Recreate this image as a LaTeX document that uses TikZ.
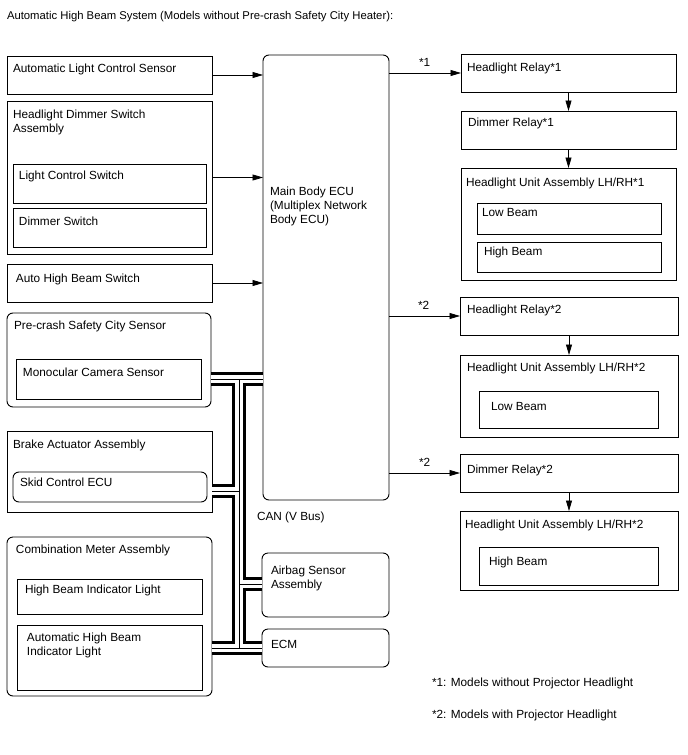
\documentclass[tikz,border=0pt]{standalone}
\usepackage{fontspec}
\setmainfont{Liberation Sans}
\usetikzlibrary{fit,calc,arrows.meta}
\begin{document}
\begin{tikzpicture}[x=1pt,y=-1pt,
  box/.style={draw, line width=0.9pt, inner sep=0pt, outer sep=0pt},
  rbox/.style={box, rounded corners=6pt},
  txt/.style={anchor=base west, inner sep=0pt, outer sep=0pt, font=\fontsize{11.8}{14}\selectfont},
  arr/.style={line width=0.8pt, -{Triangle[length=10.5pt,width=6pt]}},
  busout/.style={line width=14pt, black},
  busin/.style={line width=8pt, white},
  buscore/.style={line width=0.8pt, black},
]
\fill[white] (0,0) rectangle (688,755);
\useasboundingbox (0,0) rectangle (688,755);

% title
\node[txt, font=\fontsize{11.3}{14}\selectfont] (title) at (7,19) {Automatic High Beam System (Models without Pre-crash Safety City Heater):};

% left column
\node[box, fit={(7,56)(212,94)}] (als) {};
\node[txt] (alst) at (13,72) {Automatic Light Control Sensor};
\node[box, fit={(7,101)(212,254)}] (hds) {};
\node[txt] (hdst1) at (13,118) {Headlight Dimmer Switch};
\node[txt] (hdst2) at (13,132) {Assembly};
\node[box, fit={(13,164)(206,203)}] (lcs) {};
\node[txt] (lcst) at (19,179) {Light Control Switch};
\node[box, fit={(13,208)(206,247)}] (dsw) {};
\node[txt] (dswt) at (19,225.5) {Dimmer Switch};
\node[box, fit={(7,264)(212,302)}] (ahb) {};
\node[txt] (ahbt) at (16,282) {Auto High Beam Switch};

\node[rbox, fit={(7,313)(211,407)}] (pcs) {};
\node[txt] (pcst) at (14,329) {Pre-crash Safety City Sensor};
\node[box, fit={(16,359)(201,399)}] (mcs) {};
\node[txt] (mcst) at (23,376.5) {Monocular Camera Sensor};

\node[box, fit={(7,431)(212,512)}] (baa) {};
\node[txt] (baat) at (13,448) {Brake Actuator Assembly};
\node[rbox, fit={(13,472)(207,502)}] (sce) {};
\node[txt] (scet) at (20,486.5) {Skid Control ECU};

\node[rbox, fit={(7,537)(212,696)}] (cma) {};
\node[txt] (cmat) at (16,553) {Combination Meter Assembly};
\node[box, fit={(17,579)(202,614)}] (hbi) {};
\node[txt] (hbit) at (25,593) {High Beam Indicator Light};
\node[box, fit={(17,625)(202,690)}] (ahi) {};
\node[txt] (ahit1) at (27,641.5) {Automatic High Beam};
\node[txt] (ahit2) at (27,655.5) {Indicator Light};

% middle column
\node[rbox, fit={(263,55)(389,500)}] (ecu) {};
\node[txt] (ecut1) at (270,195) {Main Body ECU};
\node[txt] (ecut2) at (270,209) {(Multiplex Network};
\node[txt] (ecut3) at (270,223) {Body ECU)};
\node[txt] (can) at (257,520) {CAN (V Bus)};
\node[rbox, fit={(262,553)(389,617)}] (air) {};
\node[txt] (airt1) at (271,574.5) {Airbag Sensor};
\node[txt] (airt2) at (271,588.5) {Assembly};
\node[rbox, fit={(262,629)(389,667)}] (ecm) {};
\node[txt] (ecmt) at (271,648.5) {ECM};

% right column
\node[box, fit={(461,54)(676,92)}] (hr1) {};
\node[txt] (hr1t) at (467,71.5) {Headlight Relay*1};
\node[box, fit={(461,111)(676,149)}] (dr1) {};
\node[txt] (dr1t) at (468,126) {Dimmer Relay*1};
\node[box, fit={(461,168)(676,280)}] (hu1) {};
\node[txt] (hu1t) at (466,186) {Headlight Unit Assembly LH/RH*1};
\node[box, fit={(477,203)(661,234)}] (lb1) {};
\node[txt] (lb1t) at (482,216) {Low Beam};
\node[box, fit={(477,242)(661,272)}] (hb1) {};
\node[txt] (hb1t) at (484,255) {High Beam};

\node[box, fit={(460,297)(678,335)}] (hr2) {};
\node[txt] (hr2t) at (467,313) {Headlight Relay*2};
\node[box, fit={(460,355)(678,437)}] (hu2) {};
\node[txt] (hu2t) at (467,371.5) {Headlight Unit Assembly LH/RH*2};
\node[box, fit={(479,391)(658,428)}] (lb2) {};
\node[txt] (lb2t) at (491,410) {Low Beam};

\node[box, fit={(460,454)(678,492)}] (dr2) {};
\node[txt] (dr2t) at (467,473) {Dimmer Relay*2};
\node[box, fit={(460,511)(678,590)}] (hu3) {};
\node[txt] (hu3t) at (465,528) {Headlight Unit Assembly LH/RH*2};
\node[box, fit={(479,547)(658,585)}] (hb2) {};
\node[txt] (hb2t) at (489,565) {High Beam};

% footnotes
\node[txt] (fn1) at (432,686) {*1: Models without Projector Headlight};
\node[txt] (fn2) at (432,718) {*2: Models with Projector Headlight};

% arrows into ECU
\draw[arr] (als.east) -- (als.east -| ecu.west);
\draw[arr] (hds.east) -- (hds.east -| ecu.west);
\draw[arr] (ahb.east) -- (ahb.east -| ecu.west);

% arrows out of ECU
\draw[arr] (hr1.west -| ecu.east) -- (hr1.west);
\node[txt] (s1) at (419,66.5) {*1};
\draw[arr] (hr2.west -| ecu.east) -- (hr2.west);
\node[txt] (s2) at (418,309.5) {*2};
\draw[arr] (dr2.west -| ecu.east) -- (dr2.west);
\node[txt] (s3) at (419,466) {*2};

\draw[arr] (hr1.south) -- (dr1.north);
\draw[arr] (dr1.south) -- (hu1.north);
\draw[arr] (hr2.south) -- (hu2.north);
\draw[arr] (dr2.south) -- (hu3.north);

% CAN bus
\coordinate (j1) at (239,379);
\coordinate (j2) at (239,491);
\coordinate (j3) at (239,584);
\coordinate (j4) at (239,648);
\foreach \s in {busout,busin,buscore}{
  \draw[\s] (j1 -| pcs.east) -- (j1 -| ecu.west);
  \draw[\s] (j1) -- (j4);
  \draw[\s] (j2 -| baa.east) -- (j2);
  \draw[\s] (j3) -- (j3 -| air.west);
  \draw[\s] (j4 -| cma.east) -- (j4 -| ecm.west);
}
\end{tikzpicture}
\end{document}
